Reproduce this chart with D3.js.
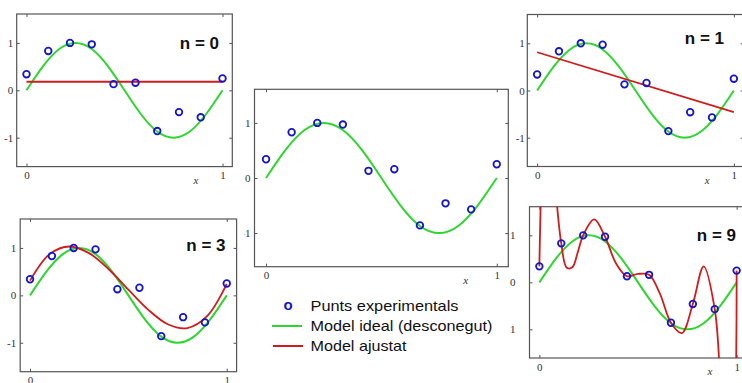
<!DOCTYPE html>
<html>
<head>
<meta charset="utf-8">
<script src="https://cdn.jsdelivr.net/npm/d3@7/dist/d3.min.js"></script>
<style>
body{margin:0;background:#fff}
svg{display:block}
.tick text{font-family:"Liberation Serif","DejaVu Serif",serif;font-size:11px;fill:#333}
.tick line{stroke:#555}
</style>
</head>
<body>
<div id="chart"></div>
<script>
// experimental points (x = i/9)
var pointX = [0, 0.111, 0.222, 0.333, 0.444, 0.556, 0.667, 0.778, 0.889, 1]
var pointY = [0.34, 0.83, 1.00, 0.97, 0.13, 0.16, -0.86, -0.46, -0.57, 0.25]

// ideal model, read at x = k/12
var idealX = [0, 0.083, 0.167, 0.25, 0.333, 0.417, 0.5, 0.583, 0.667, 0.75, 0.833, 0.917, 1]
var idealY = [0, 0.5, 0.87, 1, 0.87, 0.5, 0, -0.5, -0.87, -1, -0.87, -0.5, 0]

// fitted models
var fit0X = [0, 1]
var fit0Y = [0.18, 0.18]
var fit1X = [0, 1]
var fit1Y = [0.81, -0.46]
var fit3X = [0, 0.1, 0.2, 0.3, 0.4, 0.5, 0.6, 0.7, 0.8, 0.9, 1]
var fit3Y = [0.31, 0.87, 1.03, 0.89, 0.55, 0.12, -0.30, -0.61, -0.69, -0.44, 0.24]
var fit9X = [0, 0.014, 0.028, 0.056, 0.083, 0.111, 0.139, 0.167, 0.194, 0.222, 0.278, 0.333, 0.389,
    0.444, 0.5, 0.556, 0.611, 0.667, 0.722, 0.778, 0.833, 0.889, 0.917, 0.944, 0.972, 1]
var fit9Y = [0.34, 2.67, 3.62, 3.27, 1.94, 0.83, 0.31, 0.32, 0.63, 1.00, 1.34, 0.97, 0.40,
    0.13, 0.18, 0.16, -0.24, -0.86, -1.08, -0.46, 0.34, -0.57, -2.06, -3.71, -3.99, 0.25]

var xTicks = [0, 1]
var yTicks = [-1, 0, 1]
var xDomain = [-0.05, 1.05]
var yDomain = [-1.61, 1.61]

var legendLabels = ["Punts experimentals", "Model ideal (desconegut)", "Model ajustat"]

var blue = "#1616c8"
var green = "#2fd62f"
var red = "#d01c1c"

var width = 742
var height = 383
var svg = d3.select("#chart").append("svg").attr("width", width).attr("height", height)
var defs = svg.append("defs")
svg.append("rect").attr("width", width).attr("height", height).attr("fill", "#fff")

function toPoints(xs, ys){
    return xs.map(function(d, i){ return [d, ys[i]] })
}

var panels = [
    {id:"p0", x:16.7, y:14, w:215.6, h:152.6, crop:[0,0,240,195], pad:3.5, label:"n = 0", lx:219, ly:48.5,
        fit:toPoints(fit0X, fit0Y), curve:d3.curveLinear},
    {id:"p1", x:527.3, y:14.5, w:216.4, h:152, crop:[510,0,232,195], pad:2.5, label:"n = 1", lx:724, ly:43.5,
        fit:toPoints(fit1X, fit1Y), curve:d3.curveLinear},
    {id:"pc", x:254.5, y:89.3, w:253.8, h:177.4, crop:[244.5,80,270,215], pad:4, label:null,
        fit:null},
    {id:"p3", x:20.2, y:219, w:216.4, h:152.7, crop:[0,200,244,183], pad:4, label:"n = 3", lx:225.5, ly:251,
        fit:toPoints(fit3X, fit3Y), curve:d3.curveCatmullRom.alpha(0.5)},
    {id:"p9", x:529.5, y:206.7, w:217, h:151.3, crop:[510,200,232,183], pad:14, label:"n = 9", lx:736, ly:241,
        fit:toPoints(fit9X, fit9Y), curve:d3.curveCatmullRom.alpha(0.5)}
]

// grey borders left over from the cropped pictures
var borders = [
    [6, 11, 238, 11], [6, 11, 6, 185], [237.5, 11, 237.5, 190],
    [517, 10, 742, 10], [517, 202, 742, 202]
]
svg.selectAll(".border")
    .data(borders)
    .enter()
    .append("line")
    .attr("class", "border")
    .attr("x1", function(d){ return d[0] })
    .attr("y1", function(d){ return d[1] })
    .attr("x2", function(d){ return d[2] })
    .attr("y2", function(d){ return d[3] })
    .attr("stroke", "#c4c4c4")
    .attr("stroke-width", 2)

panels.forEach(drawPanel)
drawLegend()

function drawPanel(p){
    defs.append("clipPath").attr("id", "crop_" + p.id).append("rect")
        .attr("x", p.crop[0]).attr("y", p.crop[1]).attr("width", p.crop[2]).attr("height", p.crop[3])
    defs.append("clipPath").attr("id", "frame_" + p.id).append("rect")
        .attr("x", p.x).attr("y", p.y).attr("width", p.w).attr("height", p.h)

    var xScale = d3.scaleLinear().domain(xDomain).range([p.x, p.x + p.w])
    var yScale = d3.scaleLinear().domain(yDomain).range([p.y + p.h, p.y])

    var g = svg.append("g").attr("clip-path", "url(#crop_" + p.id + ")")
    g.append("rect")
        .attr("x", p.crop[0]).attr("y", p.crop[1]).attr("width", p.crop[2]).attr("height", p.crop[3])
        .attr("fill", "#fff")

    var fmt = function(d){ return String(d) }
    g.append("g").attr("transform", "translate(0," + (p.y + p.h) + ")")
        .call(d3.axisBottom(xScale).tickValues(xTicks).tickSizeInner(-3).tickSizeOuter(0).tickPadding(5).tickFormat(fmt))
    g.append("g").attr("transform", "translate(0," + p.y + ")")
        .call(d3.axisTop(xScale).tickValues(xTicks).tickSizeInner(-3).tickSizeOuter(0).tickFormat(""))
    g.append("g").attr("transform", "translate(" + p.x + ",0)")
        .call(d3.axisLeft(yScale).tickValues(yTicks).tickSizeInner(-3).tickSizeOuter(0).tickPadding(p.pad).tickFormat(fmt))
    g.append("g").attr("transform", "translate(" + (p.x + p.w) + ",0)")
        .call(d3.axisRight(yScale).tickValues(yTicks).tickSizeInner(-3).tickSizeOuter(0).tickFormat(""))
    g.selectAll(".domain").remove()

    g.append("rect")
        .attr("x", p.x).attr("y", p.y).attr("width", p.w).attr("height", p.h)
        .attr("fill", "none").attr("stroke", "#555").attr("stroke-width", 1.2)

    g.append("text").text("x")
        .attr("x", xScale(0.865)).attr("y", p.y + p.h + 17)
        .attr("font-family", "Liberation Serif, serif").attr("font-style", "italic")
        .attr("font-size", 11).attr("fill", "#333").attr("text-anchor", "middle")

    var plot = g.append("g").attr("clip-path", "url(#frame_" + p.id + ")")
    var line = d3.line()
        .x(function(d){ return xScale(d[0]) })
        .y(function(d){ return yScale(d[1]) })

    plot.append("path")
        .datum(toPoints(idealX, idealY))
        .attr("d", line.curve(d3.curveNatural))
        .attr("fill", "none").attr("stroke", green).attr("stroke-width", 2)

    if(p.fit){
        plot.append("path")
            .datum(p.fit)
            .attr("d", line.curve(p.curve))
            .attr("fill", "none").attr("stroke", red).attr("stroke-width", 1.8)
    }

    g.selectAll(".pt")
        .data(toPoints(pointX, pointY))
        .enter()
        .append("circle")
        .attr("class", "pt")
        .attr("cx", function(d){ return xScale(d[0]) })
        .attr("cy", function(d){ return yScale(d[1]) })
        .attr("r", 3.3)
        .attr("fill", "none")
        .attr("stroke", blue)
        .attr("stroke-width", 1.8)

    if(p.label){
        g.append("text").text(p.label)
            .attr("x", p.lx).attr("y", p.ly)
            .attr("text-anchor", "end")
            .attr("font-family", "Liberation Sans, Arial, sans-serif")
            .attr("font-weight", "bold").attr("font-size", 17).attr("fill", "#111")
    }
}

function drawLegend(){
    var lg = svg.append("g")
    var rowY = [306, 326, 346]
    var textLen = [148, 182, 96]
    lg.append("text").text("o")
        .attr("x", 288).attr("y", rowY[0] + 4)
        .attr("text-anchor", "middle")
        .attr("font-family", "Liberation Sans, Arial, sans-serif")
        .attr("font-weight", "bold").attr("font-size", 15).attr("fill", blue)
    lg.append("line").attr("x1", 272).attr("x2", 302).attr("y1", rowY[1]).attr("y2", rowY[1])
        .attr("stroke", green).attr("stroke-width", 2)
    lg.append("line").attr("x1", 273).attr("x2", 303).attr("y1", rowY[2]).attr("y2", rowY[2])
        .attr("stroke", red).attr("stroke-width", 2)
    lg.selectAll(".lgText")
        .data(legendLabels)
        .enter()
        .append("text")
        .attr("class", "lgText")
        .text(function(d){ return d })
        .attr("x", 310.5)
        .attr("y", function(d, i){ return rowY[i] + 5.3 })
        .attr("textLength", function(d, i){ return textLen[i] })
        .attr("lengthAdjust", "spacingAndGlyphs")
        .attr("font-family", "Liberation Sans, Arial, sans-serif")
        .attr("font-size", 15).attr("fill", "#111")
}
</script>
</body>
</html>
